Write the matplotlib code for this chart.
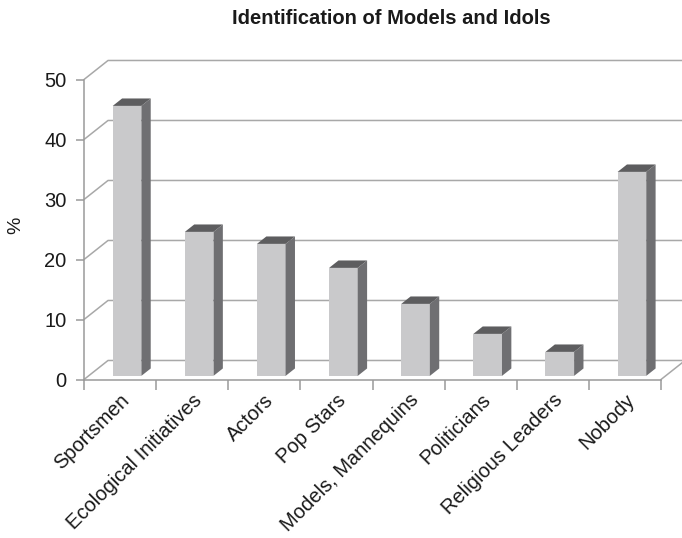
import matplotlib
matplotlib.use("Agg")
import matplotlib.pyplot as plt
import matplotlib.transforms as mtransforms
from matplotlib.patches import Polygon

categories = ["Sportsmen", "Ecological Initiatives", "Actors", "Pop Stars",
              "Models, Mannequins", "Politicians", "Religious Leaders", "Nobody"]
percent = [45, 24, 22, 18, 12, 7, 4, 34]
y_ticks = [0, 10, 20, 30, 40, 50]

FRONT = "#c9c9cb"
SIDE = "#6f6f72"
TOP = "#5d5d5f"
GRID = "#a8a8a8"
AXIS = "#9a9a9a"
TEXT = "#1a1a1a"

plt.rcParams["font.family"] = ["Liberation Sans", "DejaVu Sans"]

fig = plt.figure(figsize=(6.82, 5.38), dpi=100)
ax = fig.add_axes([84 / 682, (538 - 379.5) / 538, 577 / 682, 300 / 538])
n = len(categories)
ax.set_xlim(0, n)
ax.set_ylim(0, max(y_ticks))

# oblique depth of the plot box (data units)
DX, DY = 0.333, 3.17
# where the bars sit inside that depth
FRONT_FRAC, DEPTH_FRAC = 0.19, 0.39
BAR_LEFT, BAR_W = 0.335, 0.397

# back wall gridlines with the left-wall diagonals
for v in y_ticks:
    ax.plot([0, DX, n + DX + 1], [v, v + DY, v + DY], color=GRID, lw=1.1,
            clip_on=False, zorder=1, solid_capstyle="butt")
# floor edge on the right
ax.plot([n, n + DX], [0, DY], color=GRID, lw=1.1, clip_on=False, zorder=1)

# pseudo-3D bars
ox, oy = FRONT_FRAC * DX, FRONT_FRAC * DY
ddx, ddy = DEPTH_FRAC * DX, DEPTH_FRAC * DY
for i, v in enumerate(percent):
    x0 = i + BAR_LEFT + ox
    x1 = x0 + BAR_W
    y0 = oy
    y1 = oy + v
    front = Polygon([(x0, y0), (x1, y0), (x1, y1), (x0, y1)], closed=True,
                    facecolor=FRONT, edgecolor="none", zorder=3, clip_on=False)
    side = Polygon([(x1, y0), (x1 + ddx, y0 + ddy), (x1 + ddx, y1 + ddy), (x1, y1)],
                   closed=True, facecolor=SIDE, edgecolor="none", zorder=3, clip_on=False)
    top = Polygon([(x0, y1), (x1, y1), (x1 + ddx, y1 + ddy), (x0 + ddx, y1 + ddy)],
                  closed=True, facecolor=TOP, edgecolor="none", zorder=3, clip_on=False)
    for p in (front, side, top):
        ax.add_patch(p)

# axes lines
for s in ("top", "right"):
    ax.spines[s].set_visible(False)
for s in ("left", "bottom"):
    ax.spines[s].set_color(AXIS)
    ax.spines[s].set_linewidth(1.1)
ax.patch.set_visible(False)

ax.set_yticks(y_ticks)
ax.set_yticklabels([str(t) for t in y_ticks])
ax.tick_params(axis="y", direction="out", length=5.5, width=1.1, color=AXIS,
               labelsize=14.5, labelcolor=TEXT, pad=7)

ax.set_xticks([i + 0.5 for i in range(n)])
ax.set_xticklabels(categories, rotation=45, ha="right", rotation_mode="anchor")
ax.set_xticks(range(n + 1), minor=True)
ax.tick_params(axis="x", which="major", length=0, labelsize=14.5, labelcolor=TEXT, pad=8)
ax.tick_params(axis="x", which="minor", direction="out", length=7.5, width=1.1, color=AXIS)
shift = mtransforms.ScaledTranslation(0 / 72, 0, fig.dpi_scale_trans)
for lab in ax.get_xticklabels():
    lab.set_transform(lab.get_transform() + shift)

fig.text(16 / 682, 1 - 225 / 538, "%", rotation=90, ha="center", va="center",
         fontsize=14, color=TEXT)
fig.text(391 / 682, 1 - 18 / 538, "Identification of Models and Idols",
         ha="center", va="center", fontsize=14.5, fontweight="bold", color=TEXT)

fig.savefig("out.png", dpi=100)
